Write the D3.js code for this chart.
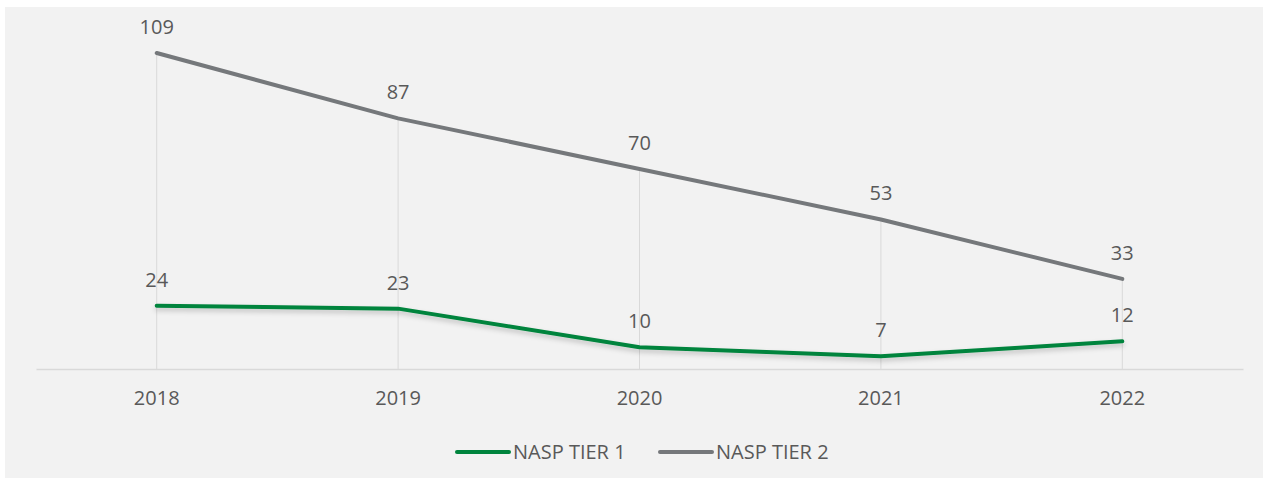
<!DOCTYPE html>
<html><head><meta charset="utf-8">
<script src="https://cdn.jsdelivr.net/npm/d3@7/dist/d3.min.js"></script>
<style>html,body{margin:0;padding:0;background:#fff;}svg{display:block;}</style>
</head><body>
<svg id="chart" width="1268" height="484"></svg>
<script>
const years = ["2018", "2019", "2020", "2021", "2022"];
const tier1 = [24, 23, 10, 7, 12];
const tier2 = [109, 87, 70, 53, 33];
const seriesNames = ["NASP TIER 1", "NASP TIER 2"];
const seriesColors = ["#00843d", "#75787b"];

const svg = d3.select("#chart");
const font = "'Open Sans', 'DejaVu Sans', sans-serif";
const textColor = "#595959";
const fs = 20;

svg.append("rect").attr("x", 5).attr("y", 7).attr("width", 1258).attr("height", 471).attr("fill", "#f2f2f2");

const defs = svg.append("defs");
const f = defs.append("filter").attr("id", "shadow").attr("x", "-5%").attr("y", "-50%").attr("width", "110%").attr("height", "300%");
f.append("feDropShadow").attr("dx", 0).attr("dy", 3).attr("stdDeviation", 2.5).attr("flood-color", "#000").attr("flood-opacity", 0.2);

const x = d3.scaleBand().domain(years).range([36, 1243]);
const cx = d => x(d) + x.bandwidth() / 2;
const y = d3.scaleLinear().domain([0, d3.max(tier2)]).range([377, 53]);
const axisY = 369;

// drop lines
const maxVals = years.map((yr, i) => Math.max(tier1[i], tier2[i]));
svg.append("g").selectAll("line").data(years).join("line")
  .attr("x1", d => cx(d)).attr("x2", d => cx(d))
  .attr("y1", (d, i) => y(maxVals[i])).attr("y2", axisY)
  .attr("stroke", "#d9d9d9").attr("stroke-width", 1);

// category axis
const xAxis = d3.axisBottom(x).tickSize(0).tickPadding(22);
const ax = svg.append("g").attr("transform", `translate(0,${axisY})`).call(xAxis);
ax.select(".domain").attr("stroke", "#d9d9d9").attr("stroke-width", 1.5);
ax.selectAll("text").attr("font-family", font).attr("font-size", fs).attr("fill", textColor);

const line = d3.line().x((d, i) => cx(years[i])).y(d => y(d));
const series = [tier2, tier1];
const colors = [seriesColors[1], seriesColors[0]];
series.forEach((vals, k) => {
  const p = svg.append("path").datum(vals).attr("d", line)
    .attr("fill", "none").attr("stroke", colors[k]).attr("stroke-width", 4)
    .attr("stroke-linecap", "round").attr("stroke-linejoin", "round");
  if (k === 1) p.attr("filter", "url(#shadow)");
});

// data labels
[tier1, tier2].forEach(vals => {
  svg.append("g").selectAll("text").data(vals).join("text")
    .attr("x", (d, i) => cx(years[i]))
    .attr("y", d => y(d) - 19)
    .attr("text-anchor", "middle")
    .attr("font-family", font).attr("font-size", fs).attr("fill", textColor)
    .text(d => d);
});

// legend
const legendItems = [{x: 457, i: 0}, {x: 660, i: 1}];
legendItems.forEach(it => {
  svg.append("line").attr("x1", it.x).attr("x2", it.x + 52).attr("y1", 452).attr("y2", 452)
    .attr("stroke", seriesColors[it.i]).attr("stroke-width", 4).attr("stroke-linecap", "round");
  svg.append("text").attr("x", it.x + 56).attr("y", 459)
    .attr("font-family", font).attr("font-size", fs).attr("fill", textColor)
    .text(seriesNames[it.i]);
});
</script>
</body></html>
